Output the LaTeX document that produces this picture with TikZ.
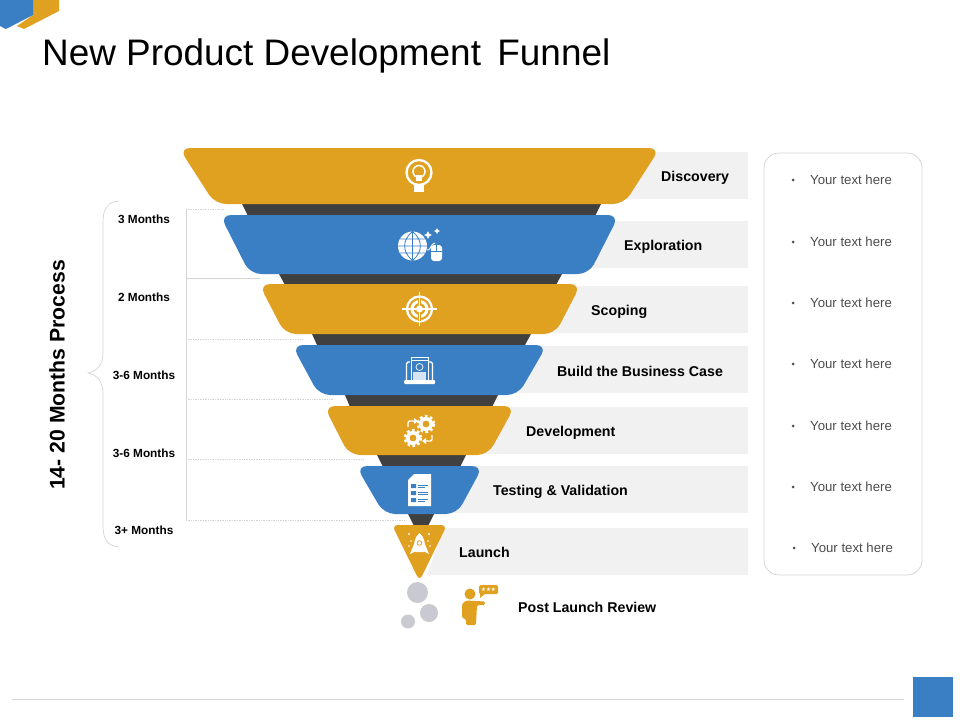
\documentclass[tikz,border=0pt]{standalone}
\usepackage{fontspec}
\setmainfont{Liberation Sans}
\newfontfamily\symbolfont{DejaVu Sans}
\usetikzlibrary{positioning}
\definecolor{goldband}{HTML}{E0A020}
\definecolor{blueband}{HTML}{3A7FC4}
\definecolor{darkband}{HTML}{404040}
\definecolor{greybar}{HTML}{F1F1F1}
\definecolor{softline}{HTML}{D4D4D4}
\definecolor{bubblegrey}{HTML}{C9C9D1}

\begin{document}
\begin{tikzpicture}[
    x=1pt, y=-1pt,
    goldfill/.style={fill=goldband, rounded corners=11pt},
    bluefill/.style={fill=blueband, rounded corners=11pt},
    darkfill/.style={fill=darkband},
    barfill/.style={fill=greybar},
    stagelabel/.style={anchor=base west, inner sep=0pt, font=\fontsize{14.2}{16}\selectfont\bfseries},
    monthlabel/.style={inner sep=0pt, font=\fontsize{11.8}{13}\selectfont\bfseries},
    noteitem/.style={anchor=west, inner sep=0pt, text=black!70, font=\fontsize{13.2}{15}\selectfont},
    notedot/.style={fill=black!70, circle, inner sep=0pt, minimum size=3pt},
    gridline/.style={draw=softline, line width=0.7pt},
    gridrule/.style={draw=softline, line width=0.7pt, densely dotted},
    iconline/.style={draw=white, line width=2.3pt}
]
\useasboundingbox (0,0) rectangle (960,720);

% 1. Header and footer
\fill[goldband] (33,0) -- (59,0) -- (59,11) -- (24,29) -- (17,26) -- (33,15) -- cycle;
\fill[blueband] (0,0) -- (33,0) -- (33,15) -- (6,29) -- (0,26) -- cycle;
\node[anchor=west, inner sep=0pt, font=\fontsize{36.9}{42}\selectfont] (title) at (42,56) {New Product Development\, Funnel};
\coordinate (footleft) at (12,699);
\coordinate (footright) at (904,699);
\draw[gridline] (footleft) -- (footright);
\fill[blueband] (913,677) rectangle (953,717);

% 2. Grey bars
\fill[barfill] (420,152) rectangle (748,199);
\fill[barfill] (420,221) rectangle (748,268);
\fill[barfill] (420,286) rectangle (748,333);
\fill[barfill] (420,346) rectangle (748,393);
\fill[barfill] (420,407) rectangle (748,454);
\fill[barfill] (420,466) rectangle (748,513);
\fill[barfill] (444,528) -- (748,528) -- (748,575) -- (427,575) -- cycle;

% 3. Dark links
\fill[darkfill] (242,204) -- (601,204) -- (595,216) -- (248,216) -- cycle;
\fill[darkfill] (279,274) -- (562,274) -- (556,285) -- (285,285) -- cycle;
\fill[darkfill] (312,334) -- (531,334) -- (525,345) -- (317,345) -- cycle;
\fill[darkfill] (345,395) -- (498,395) -- (492,407) -- (350,407) -- cycle;
\fill[darkfill] (377,455) -- (466,455) -- (460,467) -- (383,467) -- cycle;
\fill[darkfill] (408,514) -- (434,514) -- (428,526) -- (414,526) -- cycle;

% 4. Funnel bands
\fill[goldfill] (179,148) -- (660,148) -- (624,204) -- (215,204) -- cycle;
\fill[bluefill] (220,215) -- (619,215) -- (589,274) -- (250,274) -- cycle;
\fill[goldfill] (259,284) -- (581,284) -- (555,334) -- (285,334) -- cycle;
\fill[bluefill] (292,345) -- (547,345) -- (518,395) -- (319,395) -- cycle;
\fill[goldfill] (324,406) -- (515,406) -- (488,455) -- (349,455) -- cycle;
\fill[bluefill] (356,466) -- (483,466) -- (457,514) -- (384,514) -- cycle;
\fill[goldband, rounded corners=6pt] (392,525) -- (447,525) -- (419.5,581) -- cycle;

% 5. Stage labels
\node[stagelabel] (discovery) at (661,181) {Discovery};
\node[stagelabel] (exploration) at (624,250) {Exploration};
\node[stagelabel] (scoping) at (591,315) {Scoping};
\node[stagelabel] (business) at (557,376) {Build the Business Case};
\node[stagelabel] (development) at (526,436) {Development};
\node[stagelabel] (testing) at (493,495) {Testing \& Validation};
\node[stagelabel] (launch) at (459,557) {Launch};
\node[stagelabel] (review) at (518,612) {Post Launch Review};

% 6. Month scale
\node[monthlabel] (m1) at (144,219.5) {3 Months};
\node[monthlabel] (m2) at (144,297.5) {2 Months};
\node[monthlabel] (m3) at (144,375.5) {3-6 Months};
\node[monthlabel] (m4) at (144,453.5) {3-6 Months};
\node[monthlabel] (m5) at (144,530.5) {3+ Months};
\node[rotate=90, inner sep=0pt, font=\fontsize{21.2}{24}\selectfont\bfseries] (process) at (57,375) {14- 20 Months Process};
\draw[gridline] (119,201) .. controls (108,202) and (103,208) .. (103,222) -- (103,352)
    .. controls (103,364) and (98,371) .. (88,373) .. controls (98,375) and (103,382) .. (103,394)
    -- (103,526) .. controls (103,540) and (108,546) .. (119,547);
\draw[gridline] (186,209) -- (186,520);
\draw[gridrule] (186,209) -- (225,209);
\draw[gridline] (186,278) -- (260,278);
\draw[gridrule] (186,339.5) -- (303,339.5);
\draw[gridrule] (186,399.5) -- (333,399.5);
\draw[gridrule] (186,459.5) -- (363,459.5);
\draw[gridrule] (186,520.5) -- (405,520.5);

% 7. Notes panel
\draw[draw=softline, line width=0.8pt, rounded corners=15pt] (764,153) rectangle (922,575);
\node[notedot] (d1) at (793,180) {};
\node[notedot] (d2) at (793,242) {};
\node[notedot] (d3) at (793,303) {};
\node[notedot] (d4) at (793,364) {};
\node[notedot] (d5) at (793,426) {};
\node[notedot] (d6) at (793,487) {};
\node[notedot] (d7) at (794,548) {};
\node[noteitem] (n1) at (810,180) {Your text here};
\node[noteitem] (n2) at (810,242) {Your text here};
\node[noteitem] (n3) at (810,303) {Your text here};
\node[noteitem] (n4) at (810,364) {Your text here};
\node[noteitem] (n5) at (810,426) {Your text here};
\node[noteitem] (n6) at (810,487) {Your text here};
\node[noteitem] (n7) at (811,548) {Your text here};

% 8. Icons
% bulb
\draw[iconline] (419,172.5) circle[radius=12.5];
\draw[draw=white, line width=1.5pt] (419,171.5) circle[radius=6];
\fill[white] (416,175) rectangle (422,181);
\fill[white] (414,185) rectangle (424,191.5);
% globe and mouse
\fill[white] (412.5,246) circle[radius=14.5];
\draw[blueband, line width=0.8pt] (398,246) -- (427,246) (400,239) -- (425,239) (400,253) -- (425,253)
    (412.5,231.5) -- (412.5,260.5) (412.5,231.5) .. controls (402,240) and (402,252) .. (412.5,260.5)
    (412.5,231.5) .. controls (423,240) and (423,252) .. (412.5,260.5);
\draw[white, line width=0.9pt] (427,250) .. controls (430,252) and (431,243) .. (435,243);
\fill[white, rounded corners=3pt] (431,245) rectangle (442,261);
\draw[blueband, line width=0.8pt] (431,251) -- (442,251) (436.5,245) -- (436.5,251);
\fill[white] (428,231) -- (429.3,233.7) -- (432,235) -- (429.3,236.3) -- (428,239) -- (426.7,236.3) -- (424,235) -- (426.7,233.7) -- cycle;
\fill[white] (437,228) -- (438,230) -- (440,231) -- (438,232) -- (437,234) -- (436,232) -- (434,231) -- (436,230) -- cycle;
% target
\draw[iconline] (419.5,309) circle[radius=12.5];
\draw[draw=white, line width=3pt] (419.5,309) circle[radius=7.5];
\draw[goldband, line width=2.5pt] (408,309) -- (431,309) (419.5,297.5) -- (419.5,320.5);
\draw[draw=white, line width=1.6pt] (402,309) -- (437,309) (419.5,292) -- (419.5,326);
\fill[white] (419.5,309) circle[radius=3.5];
% laptop
\draw[draw=white, line width=1.4pt, rounded corners=1.5pt] (406.5,380) -- (406.5,362) -- (432.5,362) -- (432.5,380);
\fill[blueband] (410,356) rectangle (429,380);
\draw[draw=white, line width=1pt] (411,380) -- (411,357) -- (428,357) -- (428,380);
\draw[draw=white, line width=0.7pt] (411,360) -- (428,360);
\draw[draw=white, line width=0.7pt] (419.5,367) circle[radius=3.5];
\fill[white!80!blueband] (413,372) rectangle (426,380);
\fill[white, rounded corners=1pt] (404,380) rectangle (435,384);
% gears and arrows
\draw[draw=white, line width=3.6pt] (426,424) circle[radius=5.5];
\draw[draw=white, line width=2.4pt, dash pattern=on 2.6pt off 2.6pt] (426,424) circle[radius=8];
\draw[draw=white, line width=3.6pt] (413,438) circle[radius=5.5];
\draw[draw=white, line width=2.4pt, dash pattern=on 2.6pt off 2.6pt] (413,438) circle[radius=8];
\draw[draw=white, line width=1.4pt, rounded corners=2pt] (408,427) -- (408,421) -- (415,421);
\fill[white] (414,418) -- (418,421) -- (414,424) -- cycle;
\draw[draw=white, line width=1.4pt, rounded corners=2pt] (432,435) -- (432,441) -- (425,441);
\fill[white] (426,438) -- (422,441) -- (426,444) -- cycle;
% checklist
\fill[white] (414,474) -- (431,474) -- (431,506) -- (408,506) -- (408,480) -- cycle;
\fill[blueband] (411,484) rectangle (416,488) (411,491) rectangle (416,495) (411,498) rectangle (416,502);
\draw[blueband, line width=0.8pt] (418,485) -- (428,485) (418,487.5) -- (425,487.5) (418,492) -- (428,492)
    (418,494.5) -- (428,494.5) (418,499) -- (428,499) (418,501.5) -- (425,501.5);
% rocket
\fill[white] (419.5,533) .. controls (425,537) and (426,546) .. (424,552) -- (415,552) .. controls (413,546) and (414,537) .. (419.5,533) -- cycle;
\fill[white] (414.5,543) -- (410,554) -- (416,551) -- cycle;
\fill[white] (424.5,543) -- (429,554) -- (423,551) -- cycle;
\draw[goldband, line width=0.8pt] (419.5,543) circle[radius=2.3];
\fill[white] (409,534) circle[radius=1.1] (429,534) circle[radius=1.1] (409,546) circle[radius=0.9] (430,546) circle[radius=0.9] (411,541) circle[radius=0.8] (428,541) circle[radius=0.8];

% 9. Review bubbles and person
\fill[bubblegrey] (417.5,592.5) circle[radius=10.5];
\fill[bubblegrey] (429,613) circle[radius=9];
\fill[bubblegrey] (408,621.5) circle[radius=7];
\fill[goldband] (470,594) circle[radius=5.5];
\fill[goldband, rounded corners=1.5pt] (462,618) -- (462,604) -- (466,600.5) -- (485,601.5) -- (485,605) -- (477,605) -- (476,625) -- (466,625) -- (466,619) -- cycle;
\fill[goldband, rounded corners=1.5pt] (479,585) rectangle (498,594);
\fill[goldband] (480,593) -- (480,598) -- (486,593) -- cycle;
\node[inner sep=0pt, text=white, font=\symbolfont\fontsize{5.5}{7}\selectfont] (stars) at (488.5,589.5) {★★★};
\end{tikzpicture}
\end{document}
